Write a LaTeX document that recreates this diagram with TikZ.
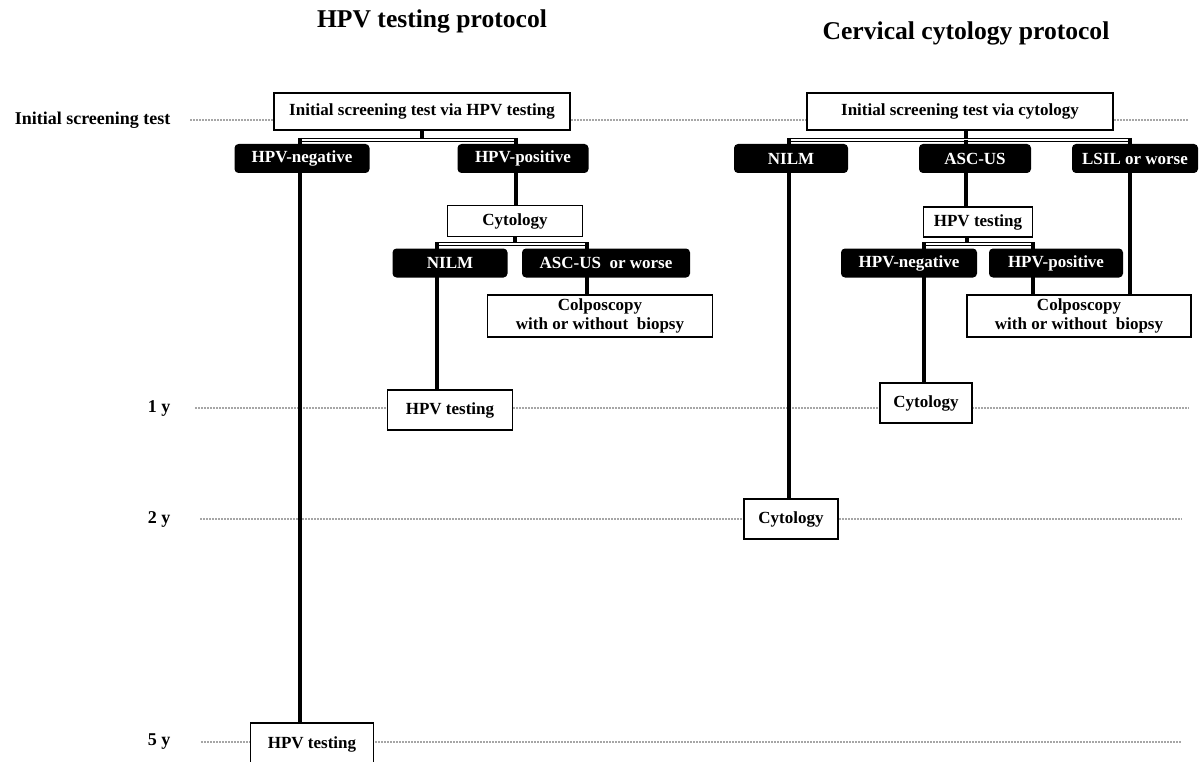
\documentclass[tikz,border=0pt]{standalone}
\usepackage{fontspec}
\setmainfont{Liberation Serif}
\usetikzlibrary{positioning,calc,backgrounds}

\begin{document}
\begin{tikzpicture}[x=1pt,y=-1pt,line join=miter,
	wbox/.style={draw=black,line width=1.8pt,fill=white,inner sep=0pt,align=center,
		font=\fontsize{17}{19}\selectfont\bfseries},
	kbox/.style={fill=black,rounded corners=4pt,text=white,inner sep=0pt,minimum height=29pt,
		font=\fontsize{17}{19}\selectfont\bfseries},
	conn/.style={line width=3.2pt},
	bar/.style={double=white,double distance=1.6pt,line width=0.8pt},
	grid/.style={gray!70,line width=1.5pt,dash pattern=on 1.5pt off 1.5pt},
	rowlab/.style={anchor=east,font=\fontsize{18}{20}\selectfont\bfseries},
	title/.style={anchor=base,font=\fontsize{25.6}{28}\selectfont\bfseries}]
	
	\useasboundingbox (0,0) rectangle (1204,762);
	
	% titles
	\node[title] (tHpv) at (432,28) {HPV testing protocol};
	\node[title] (tCyt) at (966,40) {Cervical cytology protocol};
	
	% HPV testing protocol
	\node[wbox,minimum width=296pt,minimum height=37pt] (hInit) at (422,111.5) {Initial screening test via HPV testing};
	\node[kbox,minimum width=135pt] (hNeg) at (302,158.5) {HPV-negative};
	\node[kbox,minimum width=131pt] (hPos) at (523,158.5) {HPV-positive};
	\node[wbox,minimum width=135pt,minimum height=31pt] (hCyt) at (515,221) {Cytology};
	\node[kbox,minimum width=115pt] (hNilm) at (450,263) {NILM};
	\node[kbox,minimum width=168pt] (hAsc) at (606,263) {ASC-US\ \ or worse};
	\node[wbox,minimum width=225pt,minimum height=42pt] (hColp) at (600,316) {Colposcopy\\with or without\ \ biopsy};
	\node[wbox,minimum width=125pt,minimum height=40pt] (hTest1) at (450,410) {HPV testing};
	\node[wbox,minimum width=123pt,minimum height=42pt] (hTest5) at (312,744) {HPV testing};
	
	% cervical cytology protocol
	\node[wbox,minimum width=306pt,minimum height=37pt] (cInit) at (960,111.5) {Initial screening test via cytology};
	\node[kbox,minimum width=114pt] (cNilm) at (791,158.5) {NILM};
	\node[kbox,minimum width=112pt] (cAsc) at (975,158.5) {ASC-US};
	\node[kbox,minimum width=126pt] (cLsil) at (1135,158.5) {LSIL or worse};
	\node[wbox,minimum width=109pt,minimum height=30pt] (cHpv) at (978,222) {HPV testing};
	\node[kbox,minimum width=136pt] (cNeg) at (909,263) {HPV-negative};
	\node[kbox,minimum width=134pt] (cPos) at (1056,263) {HPV-positive};
	\node[wbox,minimum width=224pt,minimum height=42pt] (cColp) at (1079,316) {Colposcopy\\with or without\ \ biopsy};
	\node[wbox,minimum width=92pt,minimum height=40pt] (cCyt1) at (926,403) {Cytology};
	\node[wbox,minimum width=94pt,minimum height=40pt] (cCyt2) at (791,519) {Cytology};
	
	% branch points
	\coordinate (hB1a) at (300,140);
	\coordinate (hB1b) at (516,140);
	\coordinate (hB2a) at (437,244);
	\coordinate (hB2b) at (587,244);
	\coordinate (cJ0) at (966,140);
	\coordinate (cB1a) at (789,140);
	\coordinate (cB1b) at (1130,140);
	\coordinate (cJ1) at (967,244);
	\coordinate (cB2a) at (924,244);
	\coordinate (cB2b) at (1033,244);
	
	\begin{pgfonlayer}{background}
		% time rows
		\foreach \nm/\lab/\yy/\xs/\xe in {r0/Initial screening test/120/190/1189, r1/1 y/408/195/1189,
			r2/2 y/519/200/1182, r5/5 y/742/201/1182}{
			\node[rowlab] (\nm) at (174,\yy) {\lab};
			\draw[grid] (\xs,\yy) -- (\xe,\yy);
		}
		
		% connectors, left
		\draw[conn] (hInit.south) -- (hInit.south |- hB1a);
		\draw[bar] (hB1a) -- (hB1b);
		\draw[conn] ([yshift=2pt]hB1a) -- (hB1a |- hTest5.north);
		\draw[conn] ([yshift=2pt]hB1b) -- (hB1b |- hCyt.north);
		\draw[conn] (hCyt.south) -- (hCyt.south |- hB2a);
		\draw[bar] (hB2a) -- (hB2b);
		\draw[conn] ([yshift=2pt]hB2a) -- (hB2a |- hTest1.north);
		\draw[conn] ([yshift=2pt]hB2b) -- (hB2b |- hColp.north);
		
		% connectors, right
		\draw[conn] (cJ0 |- cInit.south) -- (cJ0);
		\draw[bar] (cB1a) -- (cB1b);
		\draw[conn] ([yshift=2pt]cB1a) -- (cB1a |- cCyt2.north);
		\draw[conn] (cJ0) -- (cJ0 |- cHpv.north);
		\draw[conn] ([yshift=2pt]cB1b) -- (cB1b |- cColp.north);
		\draw[conn] (cJ1 |- cHpv.south) -- (cJ1);
		\draw[bar] (cB2a) -- (cB2b);
		\draw[conn] ([yshift=2pt]cB2a) -- (cB2a |- cCyt1.north);
		\draw[conn] ([yshift=2pt]cB2b) -- (cB2b |- cColp.north);
	\end{pgfonlayer}
	
\end{tikzpicture}
\end{document}
